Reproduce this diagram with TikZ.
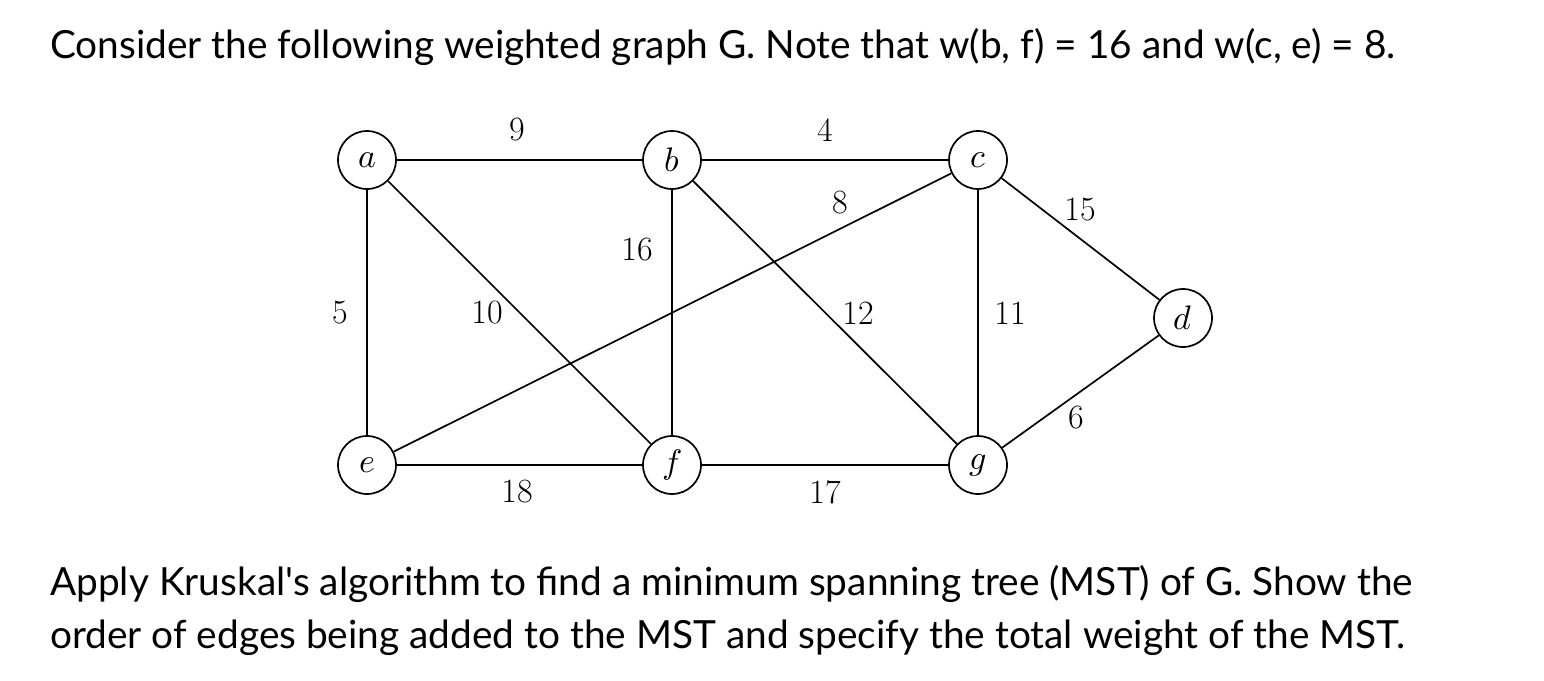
\documentclass[tikz,border=0pt]{standalone}
\usepackage{fontspec}
\usepackage{unicode-math}
\setmathfont{Latin Modern Math}
\newfontfamily\lato{Lato}
\begin{document}
\begin{tikzpicture}[x=1pt,y=-1pt,
  vtx/.style={circle,draw,line width=1.7pt,minimum size=58pt,inner sep=0pt,font=\fontsize{34}{36}\selectfont},
  edge/.style={line width=1.7pt},
  wt/.style={font=\fontsize{34}{36}\selectfont},
  txt/.style={font=\lato\fontsize{38.8}{44}\selectfont,anchor=base west,inner sep=0pt}]
\useasboundingbox (0,0) rectangle (1544,680);
\node[vtx] (a) at (367,160) {$a$};
\node[vtx] (b) at (672,160) {$b$};
\node[vtx] (c) at (978,160) {$c$};
\node[vtx] (d) at (1183,318) {$d$};
\node[vtx] (e) at (367,465) {$e$};
\node[vtx] (f) at (672,465) {$f$};
\node[vtx] (g) at (978,465) {$g$};
\draw[edge] (a)--(b); \draw[edge] (b)--(c); \draw[edge] (c)--(d);
\draw[edge] (a)--(e); \draw[edge] (a)--(f); \draw[edge] (b)--(f);
\draw[edge] (b)--(g); \draw[edge] (c)--(e); \draw[edge] (c)--(g);
\draw[edge] (d)--(g); \draw[edge] (e)--(f); \draw[edge] (f)--(g);
\node[wt] (l9) at (517,130) {9};
\node[wt] (l4) at (825,130) {4};
\node[wt] (l8) at (840,203) {8};
\node[wt] (l15) at (1080,210) {15};
\node[wt] (l16) at (637,250) {16};
\node[wt] (l5) at (340,313) {5};
\node[wt] (l10) at (487,313) {10};
\node[wt] (l12) at (858,313) {12};
\node[wt] (l11) at (1010,313) {11};
\node[wt] (l6) at (1076,418) {6};
\node[wt] (l18) at (517,492) {18};
\node[wt] (l17) at (825,492) {17};
\node[txt] (t1) at (50,58) {Consider the following weighted graph G. Note that w(b, f) = 16 and w(c, e) = 8.};
\node[txt] (t2) at (50,595) {Apply Kruskal's algorithm to find a minimum spanning tree (MST) of G. Show the};
\node[txt] (t3) at (50,648) {order of edges being added to the MST and specify the total weight of the MST.};
\end{tikzpicture}
\end{document}
